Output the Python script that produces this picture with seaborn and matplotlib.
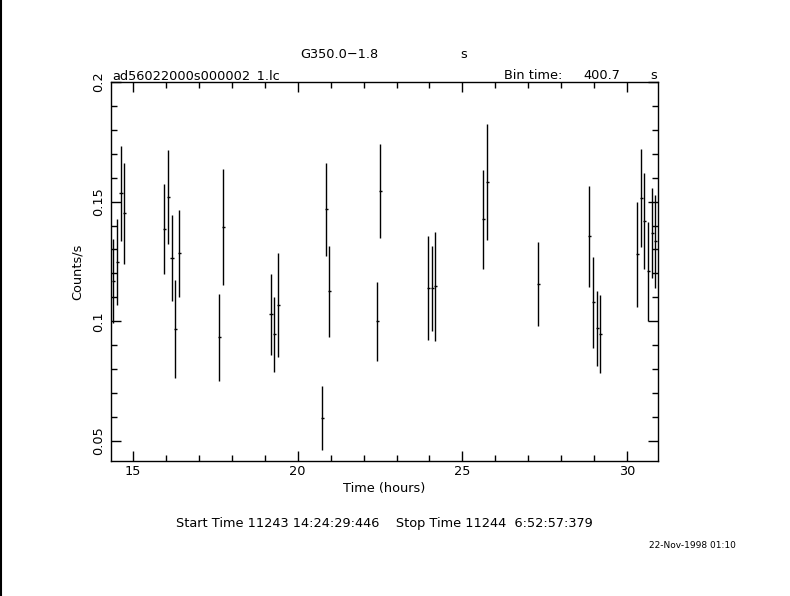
import numpy as np
import pandas as pd
import matplotlib
matplotlib.use("Agg")
import matplotlib.pyplot as plt
import seaborn as sns
from matplotlib.lines import Line2D
from matplotlib.ticker import MultipleLocator

# light curve values
time_h = [14.402, 14.523, 14.626, 14.736, 15.950, 16.072, 16.184, 16.285, 16.406,
          17.621, 17.742, 19.191, 19.291, 19.412, 20.749, 20.870, 20.961, 22.419,
          22.510, 23.968, 24.089, 24.180, 25.638, 25.759, 27.308, 28.857, 28.978,
          29.100, 29.191, 30.314, 30.436, 30.527, 30.649, 30.770, 30.861]
rate = [0.1167, 0.1247, 0.1535, 0.1451, 0.1384, 0.1518, 0.1263, 0.0969, 0.1284,
        0.0933, 0.1393, 0.1030, 0.0946, 0.1068, 0.0595, 0.1468, 0.1125, 0.1000,
        0.1545, 0.1138, 0.1138, 0.1146, 0.1426, 0.1581, 0.1155, 0.1355, 0.1079,
        0.0971, 0.0946, 0.1280, 0.1514, 0.1419, 0.1209, 0.1368, 0.1334]
rate_err = [0.0175, 0.0179, 0.0198, 0.0210, 0.0188, 0.0197, 0.0180, 0.0204, 0.0181,
            0.0183, 0.0243, 0.0169, 0.0157, 0.0217, 0.0134, 0.0194, 0.0189, 0.0166,
            0.0197, 0.0217, 0.0177, 0.0229, 0.0208, 0.0242, 0.0175, 0.0210, 0.0189,
            0.0156, 0.0162, 0.0219, 0.0204, 0.0202, 0.0206, 0.0187, 0.0194]
bin_time = 400.7

df = pd.DataFrame({"time": time_h, "rate": rate, "err": rate_err})

sns.set_style("ticks")
plt.rcParams["font.family"] = ["DejaVu Sans"]
plt.rcParams["text.color"] = "black"
plt.rcParams["axes.labelcolor"] = "black"
plt.rcParams["xtick.color"] = "black"
plt.rcParams["ytick.color"] = "black"
fs = 9.3

fig = plt.figure(figsize=(7.9, 5.96), dpi=100)
ax = fig.add_axes([0.1405, 0.2265, 0.692, 0.6359])

ax.errorbar(df["time"], df["rate"], yerr=df["err"], xerr=bin_time / 2 / 3600,
            fmt="none", ecolor="black", elinewidth=1.0, capsize=0)

ax.set_xlim(14.33, 30.93)
ax.set_ylim(0.0416, 0.2)
ax.xaxis.set_major_locator(MultipleLocator(5))
ax.xaxis.set_minor_locator(MultipleLocator(1))
ax.yaxis.set_minor_locator(MultipleLocator(0.01))
ax.set_yticks([0.05, 0.1, 0.15, 0.2])
ax.set_yticklabels(["0.05", "0.1", "0.15", "0.2"], rotation=90, va="center")
ax.tick_params(which="both", direction="in", top=True, right=True, colors="black",
               labelcolor="black", labelsize=fs, width=1)
ax.tick_params(which="major", length=7)
ax.tick_params(axis="x", which="major", pad=3)
ax.tick_params(axis="y", which="major", pad=4)
ax.tick_params(which="minor", length=4)
for s in ax.spines.values():
    s.set_linewidth(1)
    s.set_color("black")

ax.set_xlabel("Time (hours)", fontsize=fs, labelpad=3, color="black")
ax.set_ylabel("Counts/s", fontsize=fs, labelpad=6, color="black")

fig.text(0.430, 0.908, "G350.0\u22121.8", fontsize=fs, ha="center", va="center")
fig.text(0.587, 0.908, "s", fontsize=fs, ha="center", va="center")
fig.text(0.142, 0.874, "ad56022000s000002_1.lc", fontsize=fs, ha="left", va="center")
fig.text(0.638, 0.874, "Bin time:", fontsize=fs, ha="left", va="center")
fig.text(0.785, 0.874, "400.7", fontsize=fs, ha="right", va="center")
fig.text(0.828, 0.874, "s", fontsize=fs, ha="center", va="center")
fig.text(0.486, 0.121, "Start Time 11243 14:24:29:446    Stop Time 11244  6:52:57:379",
         fontsize=fs, ha="center", va="center")
fig.text(0.877, 0.085, "22-Nov-1998 01:10", fontsize=6.5, ha="center", va="center")

fig.add_artist(Line2D([0.001, 0.001], [0, 1], color="black", lw=1.5,
                      transform=fig.transFigure))

fig.savefig("out.png", dpi=100, facecolor="white")
